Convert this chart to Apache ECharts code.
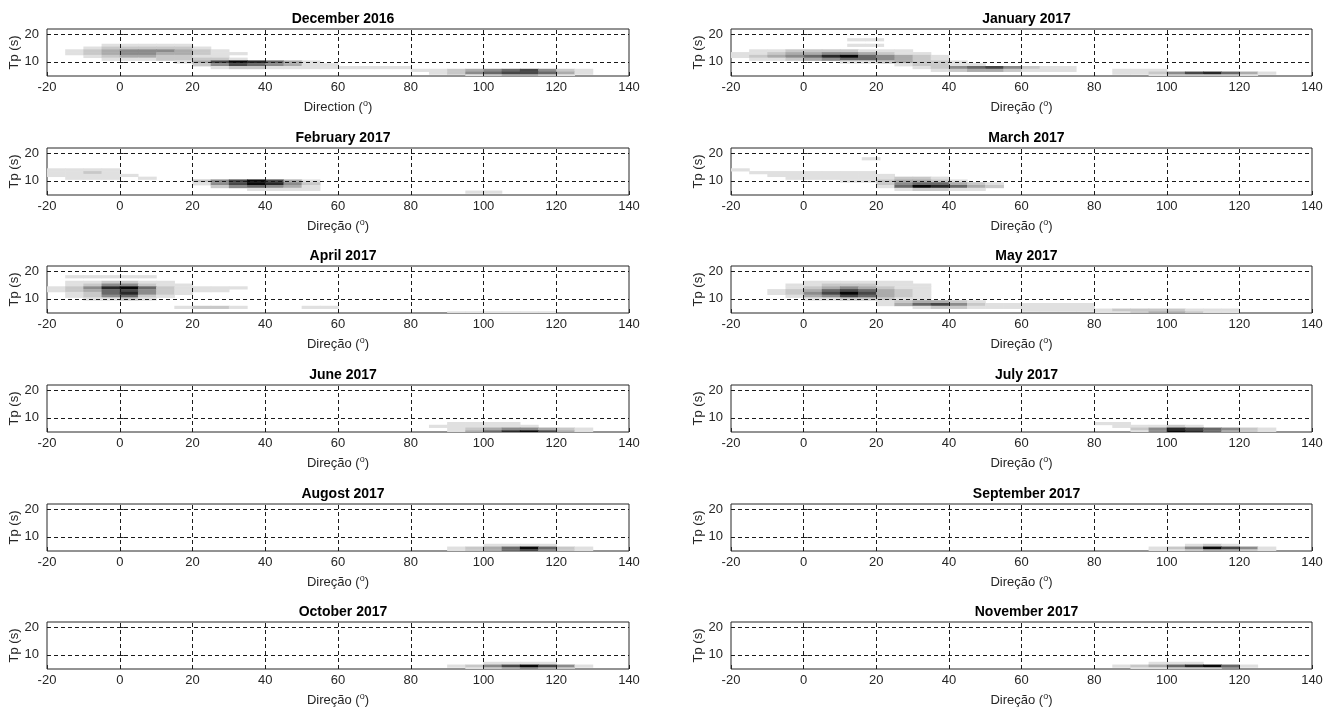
<!DOCTYPE html>
<html>
<head>
<meta charset="utf-8">
<script src="https://cdn.jsdelivr.net/npm/echarts@6.0.0/dist/echarts.min.js"></script>
<style>
html,body{margin:0;padding:0;background:#fff;}
#chart{width:1338px;height:716px;}
</style>
</head>
<body>
<div id="chart"></div>
<script>
// ---------------- DATA ----------------
const MONTHS = ['December 2016','January 2017','February 2017','March 2017','April 2017','May 2017',
  'June 2017','July 2017','Augost 2017','September 2017','October 2017','November 2017'];
const X_NAMES = ['Direction','Direção','Direção','Direção','Direção','Direção',
  'Direção','Direção','Direção','Direção','Direção','Direção'];
const X_MIN = -20, X_MAX = 140, X_STEP = 20;
const Y_MIN = 4.9, Y_MAX = 21.8;
const Y_TICKS = [10, 20];
const X_GRIDLINES = [0, 20, 40, 60, 80, 100, 120];
const CELL_W = 5; // direction bin width (deg)

// rows: [Tp (s), first direction bin start (deg), density levels per 5-deg bin (0..8)]
const dec2016 = [
  [16, -5, [1,1,1,1,1]],
  [15, -10, [1,2,2,2,2,2,1]],
  [14, -15, [1,2,3,4,4,4,3,2,1]],
  [13, -15, [1,2,3,4,4,3,3,2,1,1]],
  [12, -10, [1,2,3,3,2,2,1,1]],
  [11, -5, [1,1,1,2,2,2,2,1]],
  [10, 15, [1,3,6,8,7,5,3,1]],
  [9, 20, [2,4,6,5,4,3,1,1]],
  [8, 25, [1,2,2,1,1,1,1,1,1,1,1]],
  [7, 80, [1,1,2,3,4,5,6,4,2,1]],
  [6, 85, [1,2,4,5,6,6,5,3,1]],
  [5, 95, [1,2,3,3,2,1]]
];
const jan2017 = [
  [18, 12, [1,1]],
  [16, 12, [1,1]],
  [14, -15, [1,1,2,2,2,2,1,1,1]],
  [13, -20, [1,1,2,3,3,4,4,3,2,1,1]],
  [12, -20, [1,2,3,4,5,7,8,5,4,3,2,1]],
  [11, -15, [1,1,2,3,4,5,5,4,3,2,1]],
  [10, 10, [1,1,2,3,2,2,1]],
  [9, 25, [1,2,2,1,1]],
  [8, 30, [1,2,4,5,6,4,2,1,1]],
  [7, 35, [1,2,3,3,2,1,1,1]],
  [7, 85, [1,1,1]],
  [6, 85, [1,1,2,4,6,7,5,3,1]],
  [5, 95, [1,2,2,2,2,1]]
];
const feb2017 = [
  [14, -20, [1,1,1,1]],
  [13, -20, [1,1,2,1]],
  [12, -20, [1,1,1,1,1]],
  [11, -15, [1,1,1]],
  [11, 5, [1]],
  [10, 20, [2,4,6,8,6,3,1]],
  [9, 20, [1,4,6,8,7,4,2]],
  [8, 25, [2,4,5,4,3,1]],
  [7, 35, [1,1,1,1]],
  [6, 95, [1,1]]
];
const mar2017 = [
  [18, 16, [1]],
  [14, -20, [1]],
  [13, -15, [1,1,1,1,1,1,1]],
  [12, -10, [1,1,1,1,1,1,1]],
  [11, -5, [1,1,1,1,1,1,2,2,1]],
  [10, 10, [1,1,2,3,3,2,1]],
  [9, 20, [2,4,5,5,3,2,1]],
  [8, 20, [1,5,8,7,5,3,2]],
  [7, 25, [1,2,2,1,1]]
];
const apr2017 = [
  [18, -15, [1,1,1,1,1]],
  [16, -15, [1,1,2,2,1,1]],
  [15, -15, [1,2,4,4,2,1,1]],
  [14, -20, [1,2,4,7,8,5,2,1,1,1,1]],
  [13, -20, [1,2,3,5,6,4,2,1,1,1]],
  [12, -15, [1,2,5,7,4,2,1]],
  [11, -15, [1,2,4,5,2,1]],
  [10, -10, [1,1,2,1]],
  [7, 15, [1,2,2,1]],
  [7, 50, [1,1]],
  [5, 90, [1,1,1,1,1,1]]
];
const may2017 = [
  [16, 0, [1,1,1,1,1,1]],
  [15, -5, [1,1,2,2,2,1,1,1]],
  [14, -5, [1,2,3,4,3,2,1,1]],
  [13, -10, [1,2,3,5,6,5,3,2,1]],
  [12, -10, [1,2,4,6,8,6,3,2,1]],
  [11, -5, [1,3,4,6,5,3,2,1]],
  [10, 0, [1,1,2,2,2,1,1]],
  [9, 20, [1,2,3,3,2,1]],
  [8, 20, [1,3,5,6,4,2,1,1,1,1,1,1]],
  [7, 30, [1,2,2,1,1,1,1,1,1,1]],
  [6, 60, [1,1,1,1,1,2,2,2,2,1,1,1]],
  [5, 80, [1,1,2,3,3,2,1,1]]
];
const jun2017 = [
  [8, 90, [1,1,1,1]],
  [7, 85, [1,1,1,1,1,1]],
  [6, 90, [1,2,3,4,4,3,2,1]],
  [5, 90, [1,3,5,7,8,6,3,1]]
];
const jul2017 = [
  [8, 80, [1,1]],
  [7, 85, [1,1,1,2,1]],
  [6, 90, [2,4,7,6,5,4,2,1]],
  [5, 90, [1,4,8,7,5,3,2,1]]
];
const aug2017 = [
  [7, 100, [1,1,1,1]],
  [6, 90, [1,2,3,5,8,5,2,1]],
  [5, 90, [1,2,3,5,6,4,2,1]]
];
const sep2017 = [
  [7, 105, [1,2,1]],
  [6, 95, [1,2,4,8,6,4,1]],
  [5, 95, [1,1,2,3,3,2,1]]
];
const oct2017 = [
  [7, 100, [1,1,1,1]],
  [6, 90, [1,2,4,6,8,6,4,1]],
  [5, 95, [1,2,3,4,3,2]]
];
const nov2017 = [
  [7, 95, [1,1,1]],
  [6, 85, [1,2,3,5,7,8,5,1]],
  [5, 90, [1,1,2,2,2]]
];
const MONTH_DATA = [dec2016, jan2017, feb2017, mar2017, apr2017, may2017,
  jun2017, jul2017, aug2017, sep2017, oct2017, nov2017];

// ---------------- STYLE / LAYOUT ----------------
const GRAYS = ['#ffffff','#e0e0e0','#c8c8c8','#ababab','#8b8b8b','#686868','#474747','#282828','#080808'];
const TXT = '#262626';
const FONT = 'Liberation Sans, Arial, Helvetica, sans-serif';
const ROW_TOPS = [29, 148, 266, 385, 504, 622];
const COL_LEFT = [47, 731];
const COL_W = [582, 581];
const PANEL_H = 47;

function toCells(rows) {
  const out = [];
  rows.forEach(r => {
    r[2].forEach((lv, i) => { if (lv > 0) out.push([r[1] + i * CELL_W, r[0], lv]); });
  });
  return out;
}

function renderCell(params, api) {
  const d = api.value(0), t = api.value(1), lv = api.value(2);
  const p1 = api.coord([d, t + 0.5]);
  const p2 = api.coord([d + CELL_W, t - 0.5]);
  const cs = params.coordSys;
  const shape = echarts.graphic.clipRectByRect(
    {x: p1[0], y: p1[1], width: p2[0] - p1[0] + 0.6, height: p2[1] - p1[1] + 0.4},
    {x: cs.x, y: cs.y, width: cs.width, height: cs.height});
  return shape && {type: 'rect', shape: shape, style: {fill: GRAYS[lv]}};
}

const grids = [], xAxes = [], yAxes = [], series = [], titles = [];
MONTHS.forEach((m, i) => {
  const col = i % 2, row = Math.floor(i / 2);
  grids.push({left: COL_LEFT[col], top: ROW_TOPS[row], width: COL_W[col], height: PANEL_H,
    show: true, borderColor: TXT, borderWidth: 1, backgroundColor: '#fff', containLabel: false});
  titles.push({text: m, left: COL_LEFT[col] + COL_W[col] / 2, textAlign: 'center', top: ROW_TOPS[row] - 22,
    textStyle: {fontFamily: FONT, fontSize: 14, fontWeight: 'bold', color: '#000'}});
  xAxes.push({type: 'value', gridIndex: i, min: X_MIN, max: X_MAX, interval: X_STEP,
    name: X_NAMES[i] + ' ({s|o})', nameLocation: 'middle', nameGap: 23,
    nameTextStyle: {fontFamily: FONT, fontSize: 13, color: TXT, lineHeight: 16,
      rich: {s: {fontFamily: FONT, fontSize: 9, color: TXT, verticalAlign: 'top', lineHeight: 10}}},
    axisLine: {show: false},
    axisTick: {show: true, inside: true, length: 4, lineStyle: {color: TXT}},
    splitLine: {show: false},
    axisLabel: {fontFamily: FONT, fontSize: 13, color: TXT, margin: 5}});
  yAxes.push({type: 'value', gridIndex: i, min: Y_MIN, max: Y_MAX,
    name: 'Tp (s)', nameLocation: 'middle', nameGap: 25, nameRotate: 90,
    nameTextStyle: {fontFamily: FONT, fontSize: 13, color: TXT},
    axisLine: {show: false},
    axisTick: {show: true, inside: true, length: 4, customValues: Y_TICKS, lineStyle: {color: TXT}},
    splitLine: {show: false},
    axisLabel: {fontFamily: FONT, fontSize: 13, color: TXT, margin: 8, customValues: Y_TICKS}});
  const ml = Y_TICKS.map(v => ({yAxis: v})).concat(X_GRIDLINES.map(v => ({xAxis: v})));
  series.push({type: 'custom', xAxisIndex: i, yAxisIndex: i, renderItem: renderCell,
    data: toCells(MONTH_DATA[i]), silent: true, animation: false,
    markLine: {silent: true, symbol: ['none', 'none'], animation: false, label: {show: false},
      lineStyle: {type: [4, 3], color: '#1a1a1a', width: 1}, data: ml}});
});

const chart = echarts.init(document.getElementById('chart'), null, {renderer: 'canvas'});
chart.setOption({
  backgroundColor: '#fff',
  animation: false,
  title: titles,
  grid: grids,
  xAxis: xAxes,
  yAxis: yAxes,
  series: series
});
</script>
</body>
</html>
